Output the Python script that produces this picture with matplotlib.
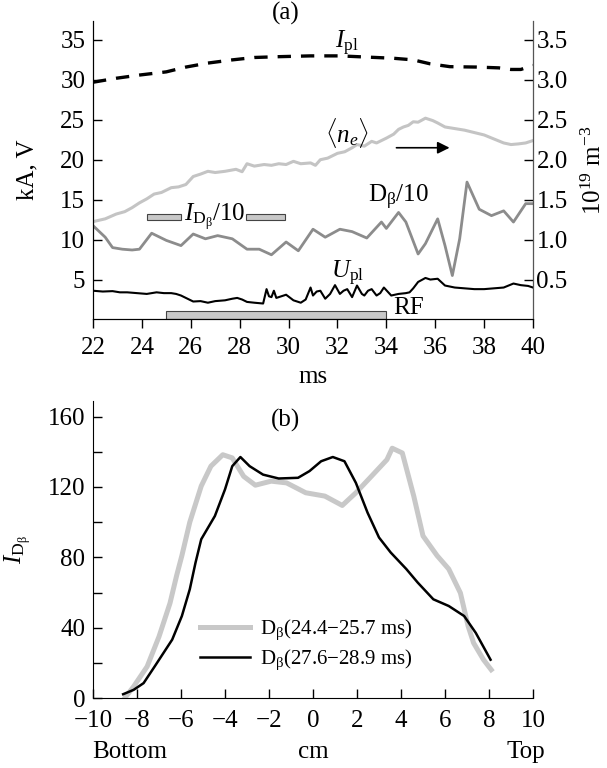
import numpy as np
import matplotlib
matplotlib.use("Agg")
import matplotlib.pyplot as plt

plt.rcParams['font.family'] = ['Liberation Serif', 'DejaVu Serif']
plt.rcParams['mathtext.fontset'] = 'custom'
plt.rcParams['mathtext.rm'] = 'Liberation Serif'
plt.rcParams['mathtext.it'] = 'Liberation Serif:italic'
plt.rcParams['font.size'] = 18
plt.rcParams['lines.solid_joinstyle'] = 'round'

# ---- panel (a): time traces, ms ----
ipl_t = [22.0, 22.95, 23.9, 25.0, 25.8, 26.7, 27.7, 28.6, 29.6, 30.9, 32.1, 33.2,
         34.3, 35.1, 35.8, 36.6, 37.7, 38.6, 39.1, 39.5, 40.0]
ipl_v = [29.7, 30.2, 30.6, 31.0, 31.6, 32.1, 32.5, 32.8, 32.9, 33.0, 33.0, 32.85,
         32.7, 32.5, 32.0, 31.65, 31.6, 31.5, 31.3, 31.3, 31.8]

ne_t = [22.0, 22.5, 22.95, 23.3, 23.6, 23.9, 24.2, 24.5, 24.8, 25.2, 25.5, 25.8, 26.1,
        26.4, 26.7, 27.0, 27.4, 27.85, 28.1, 28.3, 28.6, 29.0, 29.3, 29.6, 29.9, 30.2,
        30.5, 30.9, 31.1, 31.3, 31.6, 32.0, 32.3, 32.6, 32.8, 33.1, 33.4, 33.6, 34.0,
        34.3, 34.5, 34.7, 34.9, 35.1, 35.3, 35.6, 35.9, 36.1, 36.4, 36.8, 37.2, 37.6,
        38.0, 38.4, 38.8, 39.1, 39.4, 39.7, 40.0]
ne_v = [12.25, 12.6, 13.2, 13.5, 14.0, 14.6, 15.1, 15.7, 15.9, 16.5, 16.6, 16.9, 17.9,
        18.2, 18.55, 18.4, 18.55, 18.8, 18.5, 19.5, 19.2, 19.4, 19.3, 19.5, 19.4, 19.8,
        19.5, 19.6, 19.3, 20.0, 20.2, 20.8, 21.0, 21.5, 21.9, 21.7, 22.3, 22.1, 22.7,
        23.2, 23.8, 24.1, 24.3, 24.75, 24.7, 25.2, 24.9, 24.6, 24.1, 23.9, 23.7, 23.4,
        23.1, 22.6, 22.1, 21.9, 21.98, 22.1, 22.4]

db_t = [22.0, 22.5, 22.8, 23.2, 23.6, 23.9, 24.4, 25.0, 25.6, 26.1, 26.6, 27.1, 27.7,
        28.3, 28.8, 29.3, 29.9, 30.4, 31.0, 31.5, 32.1, 32.6, 33.2, 33.8, 34.0, 34.5,
        34.8, 35.3, 35.6, 36.1, 36.4, 36.7, 37.0, 37.3, 37.8, 38.3, 38.8, 39.2, 39.7, 40.0]
db_v = [11.75, 10.3, 9.0, 8.8, 8.7, 8.8, 10.8, 9.9, 9.25, 10.7, 10.1, 10.5, 10.1,
        8.8, 8.8, 8.1, 9.7, 8.6, 11.3, 10.3, 11.3, 11.0, 10.2, 12.2, 11.4, 13.4,
        12.2, 8.2, 9.5, 12.6, 9.25, 5.5, 10.1, 17.2, 13.8, 13.0, 13.6, 12.2, 14.5, 14.5]

upl_t = [22.0, 22.4, 22.8, 23.1, 23.4, 23.8, 24.2, 24.6, 24.9, 25.2, 25.4, 25.6, 25.8,
         26.1, 26.4, 26.7, 27.0, 27.4, 27.7, 27.9, 28.1, 28.3, 28.6, 28.96, 29.1, 29.2,
         29.3, 29.4, 29.5, 29.6, 29.9, 30.2, 30.5, 30.7, 30.9, 31.0, 31.15, 31.3, 31.5,
         31.7, 31.9, 32.1, 32.25, 32.4, 32.6, 32.8, 33.0, 33.1, 33.25, 33.4, 33.6, 33.75,
         33.9, 34.2, 34.5, 34.8, 34.95, 35.1, 35.3, 35.6, 35.8, 36.1, 36.4, 36.8, 37.2,
         37.6, 38.0, 38.4, 38.8, 39.2, 39.5, 39.8, 40.0]
upl_v = [3.6, 3.5, 3.55, 3.4, 3.4, 3.3, 3.2, 3.4, 3.3, 3.3, 3.2, 3.0, 2.7,
         2.25, 2.3, 2.1, 2.3, 2.4, 2.6, 2.7, 2.5, 2.2, 2.1, 2.0, 3.8, 2.9,
         2.8, 3.6, 2.7, 2.8, 3.1, 2.4, 2.1, 2.5, 4.0, 3.0, 3.5, 3.6, 2.6,
         3.2, 4.3, 3.2, 3.6, 3.8, 2.8, 4.25, 3.2, 3.0, 3.6, 3.8, 3.0, 3.3,
         4.0, 3.0, 3.2, 3.3, 3.4, 3.9, 4.7, 5.2, 5.0, 5.1, 4.25, 4.0, 3.9,
         3.8, 3.8, 3.9, 4.0, 4.5, 4.3, 4.2, 4.0]

rf_window = [25.0, 34.0]
idb_windows = [[24.2, 25.6], [28.25, 29.85]]

# ---- panel (b): profiles, cm ----
g_x = [-8.56, -8.15, -7.54, -7.0, -6.5, -6.2, -5.96, -5.6, -5.08, -4.64, -4.1, -3.67,
       -3.15, -2.62, -1.9, -1.2, -0.33, 0.54, 1.33, 1.95, 2.65, 3.36, 3.6, 4.06, 4.58,
       5.0, 5.64, 6.17, 6.7, 7.05, 7.3, 7.75, 8.1]
g_y = [0, 6.7, 18, 35, 54, 69.6, 81, 100, 120.5, 131.8, 138.3, 136.5,
       126, 121, 123.3, 122.3, 116.7, 114.8, 109.5, 116.7, 126, 135.5, 142, 139.3, 114.8,
       92.2, 81, 73.4, 59.8, 41, 31.4, 21.9, 16.2]

k_x = [-8.63, -8.15, -7.7, -7.2, -6.4, -5.96, -5.6, -5.34, -5.08, -4.46, -4.0, -3.67,
       -3.3, -2.88, -2.27, -1.56, -0.68, -0.16, 0.37, 0.9, 1.43, 1.95, 2.48, 3.0, 3.53,
       4.24, 4.76, 5.47, 6.17, 6.87, 7.4, 8.07]
k_y = [2.3, 4.8, 8.6, 18, 33.3, 46.7, 61.9, 77, 90.3, 103.5, 118.6, 131.8,
       137, 131.8, 127, 124.8, 125.2, 129, 134.6, 137, 134.6, 122.3, 105.4, 91.3, 82.8,
       73.4, 65.7, 56.2, 52.4, 46.7, 37.1, 21.9]

fig = plt.figure(figsize=(6.07, 7.68), dpi=100)

# ---------- (a) ----------
ax = fig.add_axes([0.1532, 0.584, 0.7249, 0.389])
ax.plot(ipl_t, ipl_v, color='black', lw=2.4, ls=(0, (4, 3)))
ax.plot(ne_t, ne_v, color='#c4c4c4', lw=2.2)
ax.plot(db_t, db_v, color='#8c8c8c', lw=2.0)
ax.plot(upl_t, upl_v, color='black', lw=1.5)
ax.barh([0.58], [rf_window[1] - rf_window[0]], left=rf_window[0], height=0.95,
        color='#c8c8c8', edgecolor='#444444', lw=0.8)
for w in idb_windows:
    ax.barh([12.8], [w[1] - w[0]], left=w[0], height=0.7,
            color='#c8c8c8', edgecolor='#444444', lw=0.8)
ax.annotate('', xy=(36.7, 21.5), xytext=(34.3, 21.5),
            arrowprops=dict(arrowstyle='-|>', color='black', lw=1.2))

ax.text(32.4, 34.6, r'$I_{\rm pl}$', ha='center', va='center')
ax.text(32.4, 23.3, r'$\langle n_e\rangle$', ha='center', va='center')
ax.text(34.5, 15.3, r'D$_{\rm β}$/10', ha='center', va='center')
ax.text(27.0, 12.9, r'$I_{{\rm D}_{\rm β}}$/10', ha='center', va='center')
ax.text(32.4, 5.8, r'$U_{\rm pl}$', ha='center', va='center')
ax.text(34.9, 1.5, 'RF', ha='center', va='center')
ax.text(29.9, 38.3, '(a)', ha='center', va='center')

ax.set_xlim(22, 40)
ax.set_ylim(0, 37.4)
ax.set_xticks(np.arange(22, 41, 2))
ax.set_yticks(np.arange(5, 36, 5))
ax.set_xlabel('ms', labelpad=5)
ax.set_ylabel('kA, V', labelpad=16)
ax.spines['top'].set_visible(False)
ax.tick_params(axis='x', direction='out', length=6.5, width=1, pad=6)
ax.tick_params(axis='y', direction='in', length=6.5, width=1, pad=5.5)

ax2 = ax.twinx()
ax2.set_ylim(0, 3.74)
ax2.set_yticks(np.arange(0.5, 3.6, 0.5))
ax2.set_yticklabels(['%.1f' % v for v in np.arange(0.5, 3.6, 0.5)])
ax2.set_ylabel(r'$10^{19}$ m$^{-3}$', labelpad=10)
ax2.spines['top'].set_visible(False)
ax2.spines['right'].set_color('#555555')
ax2.tick_params(axis='y', direction='in', length=6.5, width=1, pad=2.5)

# ---------- (b) ----------
bx = fig.add_axes([0.1532, 0.0908, 0.7249, 0.3875])
bx.plot(g_x, g_y, color='#c8c8c8', lw=3.6, label=r'D$_{\rm β}$(24.4−25.7 ms)')
bx.plot(k_x, k_y, color='black', lw=1.8, label=r'D$_{\rm β}$(27.6−28.9 ms)')
bx.legend(loc='center left', bbox_to_anchor=(0.2, 0.18), frameon=False,
          handlelength=2.4, handletextpad=0.5, labelspacing=0.25, fontsize=15)
bx.text(-1.23, 158, '(b)', ha='center', va='center')
bx.set_xlim(-10, 10)
bx.set_ylim(0, 169)
bx.set_xticks(np.arange(-10, 11, 2))
bx.set_yticks(np.arange(0, 161, 40))
bx.set_yticks(np.arange(20, 161, 40), minor=True)
bx.set_xticklabels(['−10', '−8', '−6', '−4', '−2', '0', '2', '4', '6', '8', '10'])
bx.spines['top'].set_visible(False)
bx.spines['right'].set_visible(False)
bx.tick_params(axis='both', which='both', direction='in', length=6.5, width=1)
bx.tick_params(axis='x', pad=8.5)
bx.tick_params(axis='y', pad=5.5)
bx.set_ylabel(r'$I_{{\rm D}_{\rm β}}$', labelpad=11)
bx.set_xlabel('cm')
bx.xaxis.set_label_coords(0.5, -0.145)
bx.text(-8.34, -30.5, 'Bottom', ha='center', va='center')
bx.text(9.68, -30.5, 'Top', ha='center', va='center')

fig.savefig('out.png', dpi=100)
